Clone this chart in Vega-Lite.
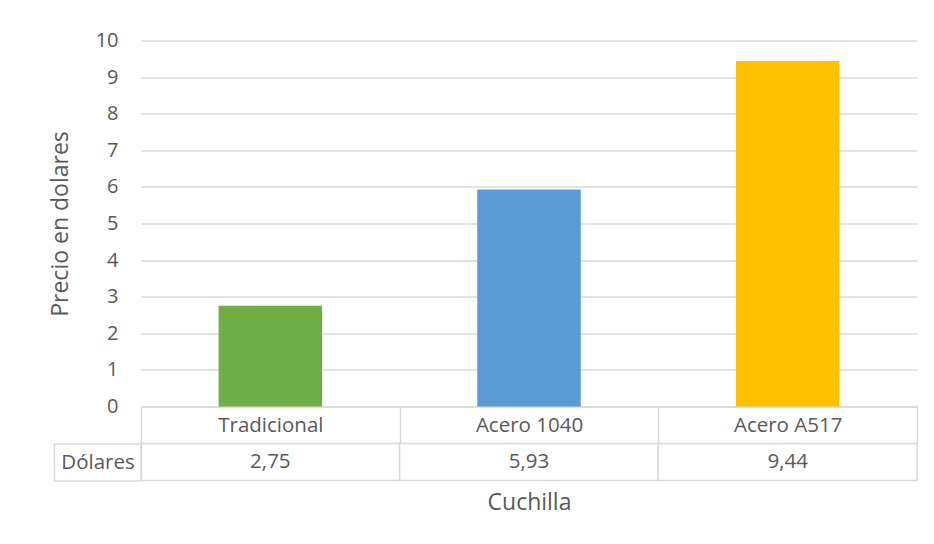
{
  "$schema": "https://vega.github.io/schema/vega-lite/v6.json",
  "background": "white",
  "padding": {"left": 49, "top": 30.5, "right": 17, "bottom": 20},
  "spacing": 37,
  "bounds": "flush",
  "config": {
    "font": "Open Sans",
    "view": {"stroke": null},
    "locale": {
      "number": {"decimal": ",", "thousands": ".", "grouping": [3], "currency": ["", " $"]}
    },
    "axis": {
      "labelColor": "#595959",
      "titleColor": "#595959",
      "labelFont": "Open Sans",
      "titleFont": "Open Sans",
      "labelFontSize": 20.5,
      "titleFontSize": 23,
      "titleFontWeight": "normal",
      "domainColor": "#d9d9d9",
      "tickColor": "#d9d9d9",
      "gridColor": "#d9d9d9",
      "domainWidth": 1.5,
      "tickWidth": 1.5,
      "gridWidth": 1.5
    }
  },
  "data": {
    "values": [
      {"cuchilla": "Tradicional", "precio": 2.75, "fila": "Dólares"},
      {"cuchilla": "Acero 1040", "precio": 5.93, "fila": "Dólares"},
      {"cuchilla": "Acero A517", "precio": 9.44, "fila": "Dólares"}
    ]
  },
  "vconcat": [
    {
      "width": 776,
      "height": 366,
      "mark": {"type": "bar", "width": {"band": 0.4}},
      "encoding": {
        "x": {
          "field": "cuchilla",
          "type": "nominal",
          "sort": null,
          "scale": {"paddingInner": 0, "paddingOuter": 0},
          "axis": {
            "title": null,
            "labelAngle": 0,
            "labelBaseline": "middle",
            "labelPadding": -18.5,
            "tickBand": "extent",
            "tickSize": 37
          }
        },
        "y": {
          "field": "precio",
          "type": "quantitative",
          "scale": {"domain": [0, 10], "nice": false},
          "axis": {
            "title": "Precio en dolares",
            "values": [0, 1, 2, 3, 4, 5, 6, 7, 8, 9, 10],
            "labelFontSize": 20,
            "domain": false,
            "ticks": false,
            "labelPadding": 23,
            "titlePadding": 23
          }
        },
        "color": {
          "field": "cuchilla",
          "type": "nominal",
          "sort": null,
          "scale": {"range": ["#70AD47", "#5B9BD5", "#FFC000"]},
          "legend": null
        }
      }
    },
    {
      "width": 776,
      "height": 37,
      "encoding": {
        "x": {
          "field": "cuchilla",
          "type": "nominal",
          "sort": null,
          "scale": {"paddingInner": 0, "paddingOuter": 0},
          "axis": {
            "title": "Cuchilla",
            "labels": false,
            "ticks": false,
            "domain": false,
            "titlePadding": 11
          }
        }
      },
      "layer": [
        {
          "mark": {"type": "rect", "fill": "white", "stroke": "#d9d9d9", "strokeWidth": 1.5},
          "encoding": {
            "y": {
              "field": "fila",
              "type": "nominal",
              "scale": {"paddingInner": 0, "paddingOuter": 0},
              "axis": {
                "title": null,
                "orient": "left",
                "tickBand": "extent",
                "tickSize": 87,
                "labelAlign": "center",
                "labelBaseline": "middle",
                "labelPadding": -43.5
              }
            }
          }
        },
        {
          "mark": {"type": "text", "fontSize": 20.5, "color": "#595959", "baseline": "middle"},
          "encoding": {
            "y": {
              "field": "fila",
              "type": "nominal",
              "scale": {"paddingInner": 0, "paddingOuter": 0},
              "axis": {
                "title": null,
                "orient": "left",
                "offset": 87,
                "labels": false,
                "ticks": false,
                "domain": true
              }
            },
            "text": {"field": "precio", "type": "quantitative", "format": ".2f"}
          }
        }
      ],
      "resolve": {"scale": {"y": "independent"}, "axis": {"y": "independent"}}
    }
  ]
}
